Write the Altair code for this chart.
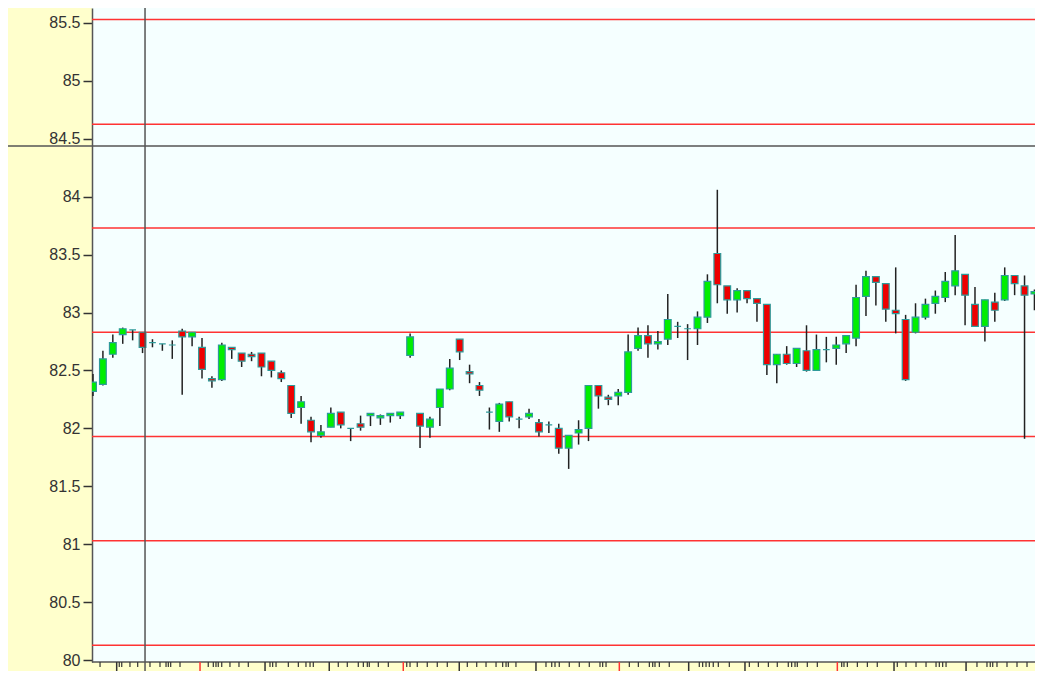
import altair as alt
import pandas as pd

# ---- candle data (one entry per bar, left to right) ----
opens = [82.32, 82.38, 82.64, 82.81, 82.85, 82.83, 82.74, 82.73, 82.72, 82.84,
         82.79, 82.70, 82.43, 82.42, 82.70, 82.65, 82.64, 82.65, 82.58, 82.48,
         82.37, 82.18, 82.07, 81.94, 82.01, 82.14, 82.00, 82.04, 82.11, 82.09,
         82.11, 82.11, 82.63, 82.13, 82.01, 82.18, 82.34, 82.77, 82.49, 82.37,
         82.14, 82.06, 82.23, 82.08, 82.10, 82.05, 82.03, 82.00, 81.83, 81.96,
         82.00, 82.37, 82.27, 82.28, 82.31, 82.69, 82.80, 82.73, 82.77, 82.88,
         82.86, 82.86, 82.96, 83.51, 83.23, 83.11, 83.19, 83.12, 83.07, 82.55,
         82.64, 82.56, 82.67, 82.50, 82.68, 82.69, 82.73, 82.78, 83.14, 83.31,
         83.25, 83.02, 82.94, 82.83, 82.96, 83.08, 83.13, 83.23, 83.33, 83.07,
         82.88, 83.09, 83.11, 83.32, 83.23, 83.16, 83.16]
closes = [82.40, 82.60, 82.74, 82.86, 82.85, 82.70, 82.74, 82.73, 82.72, 82.79,
          82.83, 82.51, 82.41, 82.72, 82.68, 82.58, 82.62, 82.53, 82.50, 82.43,
          82.13, 82.23, 81.97, 81.97, 82.13, 82.03, 82.00, 82.01, 82.13, 82.11,
          82.13, 82.14, 82.79, 82.02, 82.08, 82.34, 82.52, 82.66, 82.47, 82.33,
          82.14, 82.21, 82.10, 82.08, 82.13, 81.97, 82.03, 81.83, 81.94, 81.99,
          82.37, 82.28, 82.25, 82.31, 82.66, 82.80, 82.73, 82.75, 82.94, 82.88,
          82.86, 82.96, 83.27, 83.24, 83.11, 83.19, 83.12, 83.08, 82.55, 82.64,
          82.56, 82.69, 82.50, 82.68, 82.68, 82.72, 82.80, 83.13, 83.31, 83.26,
          83.03, 82.99, 82.42, 82.96, 83.07, 83.14, 83.27, 83.36, 83.15, 82.88,
          83.11, 83.02, 83.32, 83.25, 83.15, 83.18, 83.18]
highs = [82.47, 82.67, 82.81, 82.87, 82.85, 82.83, 82.77, 82.73, 82.76, 82.86,
         82.83, 82.78, 82.45, 82.74, 82.70, 82.65, 82.66, 82.65, 82.58, 82.50,
         82.37, 82.28, 82.10, 82.03, 82.18, 82.14, 82.00, 82.11, 82.13, 82.12,
         82.13, 82.14, 82.82, 82.13, 82.10, 82.34, 82.60, 82.77, 82.55, 82.40,
         82.18, 82.22, 82.23, 82.10, 82.17, 82.08, 82.06, 82.04, 81.94, 82.07,
         82.37, 82.37, 82.29, 82.34, 82.81, 82.87, 82.89, 82.84, 83.16, 82.92,
         82.90, 83.01, 83.33, 84.06, 83.23, 83.21, 83.19, 83.12, 83.07, 82.64,
         82.71, 82.69, 82.89, 82.81, 82.79, 82.79, 82.80, 83.24, 83.36, 83.31,
         83.25, 83.39, 82.98, 83.08, 83.12, 83.19, 83.35, 83.67, 83.33, 83.22,
         83.11, 83.17, 83.39, 83.32, 83.32, 83.20, 83.19]
lows = [82.28, 82.37, 82.61, 82.73, 82.76, 82.65, 82.70, 82.67, 82.60, 82.29,
        82.71, 82.43, 82.35, 82.41, 82.60, 82.53, 82.58, 82.45, 82.44, 82.40,
        82.09, 82.04, 81.88, 81.92, 82.01, 82.00, 81.89, 81.98, 82.02, 82.03,
        82.05, 82.08, 82.61, 81.83, 81.92, 82.02, 82.33, 82.59, 82.39, 82.28,
        81.99, 81.97, 82.06, 82.00, 82.08, 81.93, 81.96, 81.78, 81.65, 81.86,
        81.89, 82.17, 82.20, 82.20, 82.29, 82.67, 82.61, 82.68, 82.72, 82.78,
        82.59, 82.72, 82.91, 83.08, 82.99, 83.00, 83.08, 82.92, 82.46, 82.39,
        82.55, 82.53, 82.49, 82.50, 82.57, 82.55, 82.65, 82.71, 82.97, 83.06,
        82.92, 82.82, 82.41, 82.82, 82.94, 82.99, 83.09, 83.15, 82.89, 82.88,
        82.75, 82.92, 83.10, 83.15, 81.91, 83.02, 83.14]

# ---- horizontal red level lines ----
levels = [85.53, 84.625, 83.73, 82.83, 81.93, 81.03, 80.128]

# ---- y axis tick labels ----
y_ticks = [80, 80.5, 81, 81.5, 82, 82.5, 83, 83.5, 84, 84.5, 85, 85.5]

# ---- bottom axis tick positions (in bar-index units) ----
minor_ticks = [0.71, 2.65, 2.90, 3.73, 4.51, 5.75, 6.76, 7.37, 7.60, 7.84, 8.78,
               11.63, 12.14, 12.41, 12.64, 12.99, 13.82, 14.73, 15.67, 17.86, 18.13,
               18.47, 19.71, 20.72, 21.49, 21.90, 22.23, 24.75, 25.66, 26.77, 27.28,
               27.68, 27.88, 28.79, 29.80, 31.66, 31.99, 32.72, 33.73, 34.74, 35.75,
               37.77, 38.72, 39.66, 40.67, 41.34, 41.68, 41.91, 42.68, 45.71, 46.29,
               46.62, 47.05, 48.06, 49.07, 50.08, 51.16, 51.43, 51.77, 54.12, 55.03,
               56.14, 56.48, 56.71, 57.15, 58.15, 61.18, 61.52, 61.86, 62.19, 62.59,
               63.10, 64.21, 66.23, 67.14, 68.15, 69.05, 70.16, 70.50, 70.84, 71.07,
               72.08, 73.09, 75.55, 75.78, 76.12, 77.13, 78.14, 79.14, 81.16, 82.04,
               83.05, 84.06, 85.07, 85.40, 85.74, 86.08, 89.20, 90.21, 90.54, 90.79,
               91.22, 92.23, 93.24, 94.25]
medium_ticks = [2.39, 17.36, 23.84, 36.96, 44.70, 60.11, 65.79, 80.83, 88.10]
red_ticks = [10.80, 31.31, 53.11, 75.11]

# ---- crosshair ----
cross_x = [5.25]
cross_y = [84.438]

PLOT_W = 943
PLOT_H = 654
X_SCALE = alt.Scale(domain=[-0.1009, 95.056], nice=False, zero=False)
Y_SCALE = alt.Scale(domain=[79.9828, 85.6295], nice=False, zero=False)

n = len(opens)
candles = pd.DataFrame({
    "t": list(range(n)),
    "open": opens, "close": closes, "high": highs, "low": lows,
})
candles["x0"] = candles["t"] - 0.34
candles["x1"] = candles["t"] + 0.34
candles["dir"] = ["up" if c > o else ("down" if c < o else "flat")
                  for o, c in zip(opens, closes)]

lv = pd.DataFrame({"v": levels})
minor_df = pd.DataFrame({"t": minor_ticks})
medium_df = pd.DataFrame({"t": medium_ticks})
red_df = pd.DataFrame({"t": red_ticks})
cx_df = pd.DataFrame({"t": cross_x})
cy_df = pd.DataFrame({"v": cross_y})

y_axis = alt.Axis(values=y_ticks, format="~g", title=None, grid=False,
                  tickSize=9, tickWidth=1.5, tickColor="#333333",
                  domainColor="#555555", domainWidth=1.5,
                  labelFont="Liberation Sans", labelFontSize=16,
                  labelColor="#333333", labelPadding=3)

level_layer = alt.Chart(lv).mark_rule(color="#FF3333", strokeWidth=1.5).encode(
    y=alt.Y("v:Q", scale=Y_SCALE, axis=y_axis, title=None)
)

wick_layer = alt.Chart(candles).mark_rule(color="#222222", strokeWidth=1.5, clip=True).encode(
    x=alt.X("t:Q", scale=X_SCALE, axis=None),
    y=alt.Y("low:Q", scale=Y_SCALE, axis=y_axis, title=None),
    y2="high:Q",
)

body_layer = alt.Chart(candles).mark_rect(stroke="#2E9A9A", strokeWidth=1.2, clip=True).encode(
    x=alt.X("x0:Q", scale=X_SCALE, axis=None),
    x2="x1:Q",
    y=alt.Y("open:Q", scale=Y_SCALE, axis=y_axis, title=None),
    y2="close:Q",
    fill=alt.Fill("dir:N", scale=alt.Scale(domain=["up", "down", "flat"],
                                           range=["#00EE00", "#EE0000", "#2E9A9A"]),
                  legend=None),
)

bottom_line = alt.Chart(cx_df).mark_rule(color="#555555", strokeWidth=1.5).encode(
    y=alt.value(PLOT_H), x=alt.value(0), x2=alt.value(PLOT_W)
)

minor_layer = alt.Chart(minor_df).mark_rule(color="#333333", strokeWidth=1.2).encode(
    x=alt.X("t:Q", scale=X_SCALE, axis=None),
    y=alt.value(PLOT_H), y2=alt.value(PLOT_H + 5),
)
medium_layer = alt.Chart(medium_df).mark_rule(color="#333333", strokeWidth=1.5).encode(
    x=alt.X("t:Q", scale=X_SCALE, axis=None),
    y=alt.value(PLOT_H), y2=alt.value(PLOT_H + 12),
)
red_tick_layer = alt.Chart(red_df).mark_rule(color="#FF3333", strokeWidth=1.5).encode(
    x=alt.X("t:Q", scale=X_SCALE, axis=None),
    y=alt.value(PLOT_H), y2=alt.value(PLOT_H + 20),
)

cross_v = alt.Chart(cx_df).mark_rule(color="#555555", strokeWidth=1.5).encode(
    x=alt.X("t:Q", scale=X_SCALE, axis=None),
    y=alt.value(-10), y2=alt.value(PLOT_H + 20),
)
cross_h = alt.Chart(cy_df).mark_rule(color="#555555", strokeWidth=1.5).encode(
    y=alt.Y("v:Q", scale=Y_SCALE, axis=y_axis, title=None),
    x=alt.value(-90), x2=alt.value(PLOT_W + 10),
)

chart = alt.layer(
    level_layer, wick_layer, body_layer, bottom_line,
    minor_layer, medium_layer, red_tick_layer, cross_v, cross_h,
).properties(
    width=PLOT_W, height=PLOT_H,
    autosize=alt.AutoSizeParams(type="none"),
    padding={"left": 84, "top": 0, "right": 0, "bottom": 9},
    background="#FFFFCC",
).configure_view(
    fill="#F5FFFF", strokeWidth=0
)

chart.save("out.html", embed_options={"renderer": "svg", "actions": False})
